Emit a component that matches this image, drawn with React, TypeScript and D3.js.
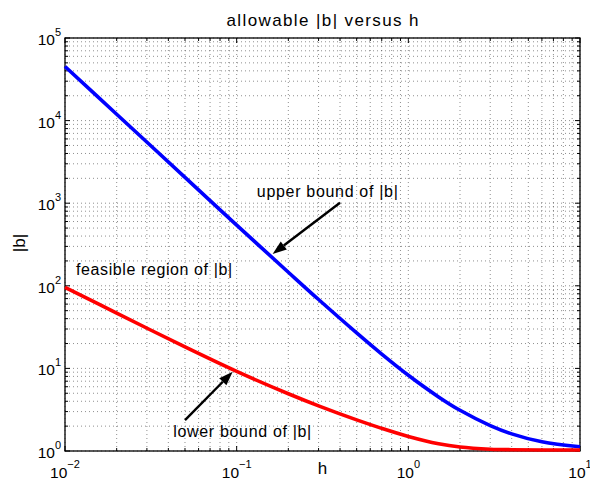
import React from "react";
import * as d3 from "d3";

// values (h on x, |b| on y, both log)
const hSamples = [0.01, 0.02, 0.05, 0.1, 0.2, 0.3, 0.5, 0.7, 1, 1.5, 2, 3, 4, 6, 10];
const upperBound = [45200, 11940, 2056, 543, 146, 68.2, 26.9, 14.9, 8.26, 4.52, 3.11, 2.03, 1.613, 1.291, 1.125];
const lowerBound = [95.9, 46.7, 18.2, 9.2, 4.93, 3.52, 2.38, 1.88, 1.5, 1.224, 1.117, 1.052, 1.037, 1.03, 1.028];

const xExponents = [-2, -1, 0, 1];
const yExponents = [0, 1, 2, 3, 4, 5];

const labels = [
  { text: "upper bound of |b|", h: 0.131, b: 1190, len: 141 },
  { text: "feasible region of |b|", h: 0.0116, b: 135, len: 156 },
  { text: "lower bound of |b|", h: 0.0427, b: 1.49, len: 138 },
];

const arrows = [
  { h0: 0.4, b0: 1014, h1: 0.162, b1: 243 },
  { h0: 0.05, b0: 2.37, h1: 0.0948, b1: 9.1 },
];

const width = 590;
const height = 485;
const margin = { top: 38, right: 10, bottom: 34, left: 65 };
const font = "'Liberation Sans', Arial, Helvetica, sans-serif";

function minorValues(exps: number[]) {
  const out: number[] = [];
  for (let i = 0; i < exps.length - 1; i++) {
    for (let m = 1; m <= 9; m++) out.push(m * Math.pow(10, exps[i]));
  }
  out.push(Math.pow(10, exps[exps.length - 1]));
  return out;
}

export default function App() {
  const x = d3.scaleLog()
    .domain([0.01, 10])
    .range([margin.left, width - margin.right]);
  const y = d3.scaleLog()
    .domain([1, 1e5])
    .range([height - margin.bottom, margin.top]);

  const [x0, x1] = x.range();
  const [y0, y1] = y.range();

  const xTicks = minorValues(xExponents);
  const yTicks = minorValues(yExponents);
  const isMajor = (v: number) => Math.abs(Math.log10(v) - Math.round(Math.log10(v))) < 1e-9;

  const line = d3.line<number>()
    .x((d, i) => x(hSamples[i]))
    .y(d => y(d))
    .curve(d3.curveCatmullRom.alpha(0.5));

  const gridStyle = { stroke: "#222", strokeOpacity: 0.5, strokeWidth: 1, strokeDasharray: "1,3" };

  return (
    <svg width={width} height={height} style={{ position: "absolute", left: 0, top: 0 }} fontFamily={font}>
      <rect width={width} height={height} fill="#fff" />

      {/* dotted grid */}
      {xTicks.map(v => (
        <line key={"gx" + v} x1={x(v)} x2={x(v)} y1={y1} y2={y0} {...gridStyle} />
      ))}
      {yTicks.map(v => (
        <line key={"gy" + v} x1={x0} x2={x1} y1={y(v)} y2={y(v)} {...gridStyle} />
      ))}

      {/* ticks, inside, all four sides */}
      {xTicks.map(v => {
        const len = isMajor(v) ? 5 : 3;
        return (
          <g key={"tx" + v} stroke="#000">
            <line x1={x(v)} x2={x(v)} y1={y0} y2={y0 - len} />
            <line x1={x(v)} x2={x(v)} y1={y1} y2={y1 + len} />
          </g>
        );
      })}
      {yTicks.map(v => {
        const len = isMajor(v) ? 5 : 3;
        return (
          <g key={"ty" + v} stroke="#000">
            <line x1={x0} x2={x0 + len} y1={y(v)} y2={y(v)} />
            <line x1={x1} x2={x1 - len} y1={y(v)} y2={y(v)} />
          </g>
        );
      })}
      <rect x={x0} y={y1} width={x1 - x0} height={y0 - y1} fill="none" stroke="#000" strokeWidth={1.3} />

      {/* curves */}
      <path d={line(upperBound) || ""} fill="none" stroke="#0000ff" strokeWidth={3.6} />
      <path d={line(lowerBound) || ""} fill="none" stroke="#ff0000" strokeWidth={3.6} />

      {/* tick labels */}
      {xExponents.map(e => (
        <text key={"xl" + e} x={x(Math.pow(10, e))} y={y0 + 27} textAnchor="middle" fontSize={15.5}>
          10<tspan dy={-10} fontSize={11}>{e < 0 ? "\u2212" + -e : e}</tspan>
        </text>
      ))}
      {yExponents.map(e => (
        <text key={"yl" + e} x={x0 - 4} y={y(Math.pow(10, e)) + 7} textAnchor="end" fontSize={15.5}>
          10<tspan dy={-9} fontSize={11}>{e}</tspan>
        </text>
      ))}

      {/* titles */}
      <text x={(x0 + x1) / 2} y={26} textAnchor="middle" fontSize={17} textLength={192}>allowable |b| versus h</text>
      <text x={(x0 + x1) / 2} y={474} textAnchor="middle" fontSize={17}>h</text>
      <text transform={`translate(25,243) rotate(-90)`} textAnchor="middle" fontSize={17}>|b|</text>

      {/* annotations */}
      {labels.map(l => (
        <text key={l.text} x={x(l.h)} y={y(l.b)} fontSize={16} textLength={l.len}>{l.text}</text>
      ))}
      {arrows.map((a, i) => {
        const sx = x(a.h0), sy = y(a.b0), tx = x(a.h1), ty = y(a.b1);
        const ang = Math.atan2(ty - sy, tx - sx);
        const hl = 14, hw = 5;
        const bx = tx - hl * Math.cos(ang), by = ty - hl * Math.sin(ang);
        const px = -Math.sin(ang) * hw, py = Math.cos(ang) * hw;
        return (
          <g key={"ar" + i}>
            <line x1={sx} y1={sy} x2={bx} y2={by} stroke="#000" strokeWidth={2.4} />
            <polygon points={`${tx},${ty} ${bx + px},${by + py} ${bx - px},${by - py}`} fill="#000" />
          </g>
        );
      })}
    </svg>
  );
}
